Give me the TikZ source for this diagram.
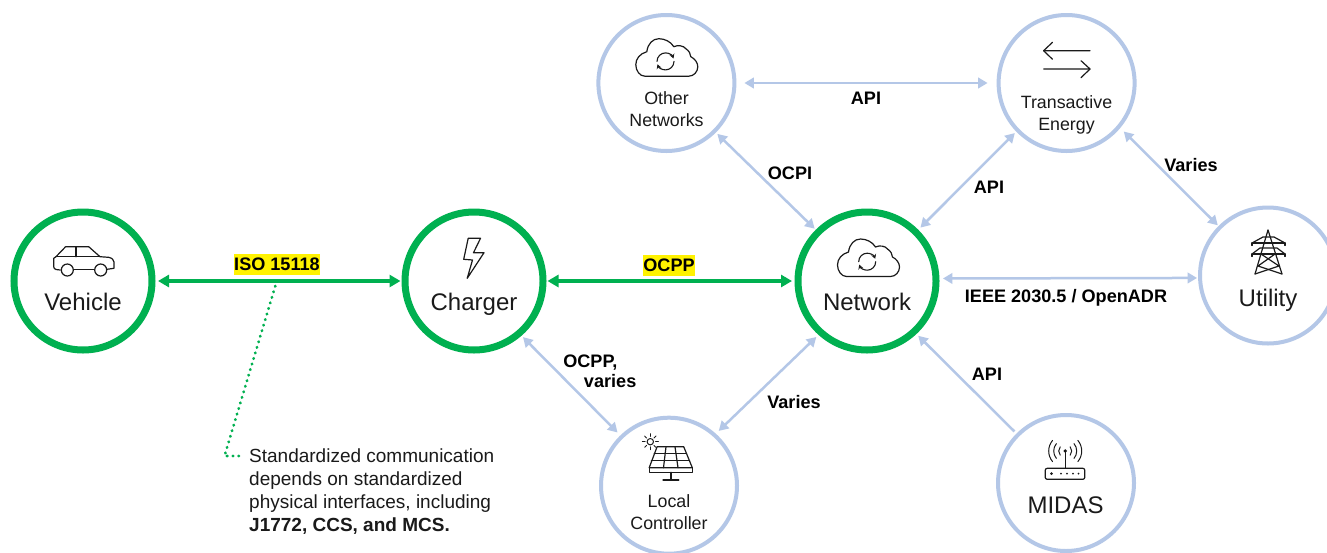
\documentclass[tikz,border=0pt]{standalone}
\usepackage{fontspec}
\setmainfont{Liberation Sans}
\usetikzlibrary{arrows.meta}
\definecolor{evgreen}{HTML}{00B050}
\definecolor{evblue}{HTML}{B4C7E7}
\definecolor{evink}{HTML}{1A1A1A}
\tikzset{
  x=1pt,y=-1pt,
  hub/.style={circle,draw=evgreen,line width=7pt,minimum size=138pt,inner sep=0pt},
  peer/.style={circle,draw=evblue,line width=4pt,minimum size=136pt,inner sep=0pt},
  greenlink/.style={draw=evgreen,line width=4pt,{Triangle[length=11pt,width=12pt]}-{Triangle[length=11pt,width=12pt]}},
  bluelink/.style={draw=evblue,line width=2.5pt,{Triangle[length=9.5pt,width=10.5pt]}-{Triangle[length=9.5pt,width=10.5pt]}},
  bluearrow/.style={draw=evblue,line width=2.5pt,-{Triangle[length=9.5pt,width=10.5pt]}},
  bigname/.style={font=\fontsize{24}{28}\selectfont,text=evink,inner sep=0pt,anchor=base},
  smallname/.style={font=\fontsize{17.8}{21.6}\selectfont,text=evink,inner sep=0pt,align=center},
  proto/.style={font=\fontsize{18.1}{20}\selectfont\bfseries,text=black,inner sep=0pt},
  hilite/.style={proto,fill=yellow,minimum height=21pt,inner xsep=0.5pt},
  icon/.style={draw=evink,line width=1.2pt,line join=round,line cap=round},
  pics/cloudicon/.style={code={
    \draw[icon] (-22,18.5) .. controls (-27,18.5) and (-31,13) .. (-31,7)
      .. controls (-31,1) and (-27,-4) .. (-20,-6)
      .. controls (-19,-14) and (-14,-19) .. (-8,-19)
      .. controls (-2,-19) and (4,-16) .. (7,-11)
      .. controls (11,-13) and (17,-12) .. (19,-9)
      .. controls (22,-7) and (24,-4) .. (24,-1)
      .. controls (28,1) and (31,5) .. (31,9)
      .. controls (31,14) and (27,18.5) .. (22,18.5) -- cycle;
    \draw[icon,line width=1.1pt,-{Stealth[length=4.5pt,width=5pt]}] (-9.8,3.7) arc[start angle=180,end angle=340,radius=8.5];
    \draw[icon,line width=1.1pt,-{Stealth[length=4.5pt,width=5pt]}] (7.2,3.7) arc[start angle=0,end angle=160,radius=8.5];
  }}
}
\begin{document}
\begin{tikzpicture}
\useasboundingbox (0,0) rectangle (1327,552);
\fill[white] (0,0) rectangle (1327,552);

% circles
\node[hub] (vehicle) at (83,281) {};
\node[hub] (charger) at (474,281) {};
\node[hub] (network) at (867,281) {};
\node[peer] (other) at (666.4,83) {};
\node[peer] (trans) at (1066.6,83) {};
\node[peer] (local) at (669,485.7) {};
\node[peer] (midas) at (1066,483) {};
\node[peer] (utility) at (1268,275.5) {};

% connectors
\draw[greenlink,shorten <=2.5pt,shorten >=1pt] (vehicle.east) -- (charger.west);
\draw[greenlink,shorten <=1pt,shorten >=2.5pt] (charger.east) -- (network.west);
\draw[bluelink,shorten <=8pt,shorten >=9pt] (other.east) -- (trans.west);
\draw[bluelink,shorten <=2pt,shorten >=1.5pt] (other.-45) -- (network.135);
\draw[bluelink,shorten <=3pt,shorten >=2pt] (network.45) -- (trans.-136);
\draw[bluelink,shorten <=5pt,shorten >=1pt] (trans.-40) -- (utility.135);
\draw[bluelink,shorten <=3.5pt,shorten >=1pt] (network.2.3) -- (utility.-178);
\draw[bluelink,shorten <=2pt,shorten >=4pt] (charger.-49) -- (local.134);
\draw[bluelink,shorten <=3pt,shorten >=4pt] (network.-132) -- (local.48);
\draw[bluearrow,shorten <=3pt,shorten >=2.5pt] (midas.135.5) -- (network.-47);

% protocol labels
\node[hilite] (iso) at (277,264.5) {ISO 15118};
\node[hilite] (ocpp) at (669,265) {OCPP};
\node[proto] (apitop) at (866,98.5) {API};
\node[proto] (ocpi) at (790,173.5) {OCPI};
\node[proto] (apitrans) at (989,187.5) {API};
\node[proto] (variesutil) at (1191,165.5) {Varies};
\node[proto] (ieee) at (1066,297.5) {IEEE 2030.5 / OpenADR};
\node[proto,align=left] (ocppvaries) at (599.8,371.5) {OCPP,\\[0pt]\hspace{20.7pt}varies};
\node[proto] (varieslocal) at (794,402.5) {Varies};
\node[proto] (apimidas) at (987,374.5) {API};

% names
\node[bigname] (tvehicle) at (83,310) {Vehicle};
\node[bigname] (tcharger) at (474,310) {Charger};
\node[bigname] (tnetwork) at (867,310) {Network};
\node[bigname] (tutility) at (1268,306) {Utility};
\node[bigname] (tmidas) at (1065.5,513) {MIDAS};
\node[smallname] (tother) at (666.5,109) {Other\\Networks};
\node[smallname] (ttrans) at (1066.5,115) {Transactive\\Energy};
\node[smallname] (tlocal) at (669,512) {Local\\Controller};

% note
\node[inner sep=0pt,anchor=west,align=left,text=evink,font=\fontsize{19}{23}\selectfont] (note) at (249,492)
  {Standardized communication\\depends on standardized\\physical interfaces, including\\\textbf{J1772, CCS, and MCS.}};
\coordinate (dotstart) at (275.3,286);
\coordinate (dotbend) at (224.5,456);
\coordinate (dotend) at (241,456);
\draw[evgreen,line width=2.8pt,line cap=round,dash pattern=on 0.5pt off 5.3pt] (dotstart) -- (dotbend) -- (dotend);

% car
\draw[icon] (60.3,270) -- (56,269.5) .. controls (54.5,269) and (53.7,268) .. (53.7,266.7) -- (53.7,258.3) -- (56,256.7) -- (65.6,246.7) -- (88.7,246.7) -- (100,256.7) -- (108.7,257.3) .. controls (112,258) and (114,260) .. (114,262) -- (114,268.3) -- (107,269.3);
\draw[icon] (56,256.7) -- (100,256.7);
\draw[icon] (76,246.7) -- (76,256.7);
\draw[icon] (73.7,269.3) -- (94,269.3);
\draw[icon] (67.3,270) circle[radius=6];
\draw[icon] (100.7,270) circle[radius=6];

% bolt
\draw[icon] (468.2,238.3) -- (480.5,238.3) -- (473.5,252.7) -- (484,252.7) -- (467.2,278.3) -- (472.5,260) -- (463.7,259.3) -- cycle;

% clouds
\pic at (666.8,57.7) {cloudicon};
\pic at (868.5,258) {cloudicon};

% exchange arrows
\draw[icon] (1090,50.7) -- (1043.6,50.7) -- (1052.5,42.3);
\draw[icon] (1043.6,50.7) -- (1052.5,59.3);
\draw[icon] (1043.6,69) -- (1090,69) -- (1081,60.7);
\draw[icon] (1090,69) -- (1081,77.7);

% solar panel
\draw[icon] (657.1,446.7) -- (683.7,446.7) -- (692.3,467.7) -- (649.2,467.7) -- cycle;
\draw[icon] (649.2,467.7) -- (649.2,472.3) -- (692.3,472.3) -- (692.3,467.7);
\draw[icon] (654.2,453.6) -- (686.5,453.6);
\draw[icon] (651.3,460.7) -- (689.4,460.7);
\draw[icon] (666,446.7) -- (663.5,467.7);
\draw[icon] (675,446.7) -- (678,467.7);
\draw[icon] (670.9,472.3) -- (670.9,480);
\draw[icon] (663,480) -- (678.8,480);
\draw[icon,line width=1pt] (650.3,441.7) circle[radius=3.2];
\foreach \a in {0,45,...,315}{
  \draw[icon,line width=0.9pt] (650.3,441.7) ++(\a:5.2) -- ++(\a:2.8);
}

% tower
\draw[icon] (1268,230) -- (1255,274);
\draw[icon] (1268,230) -- (1282,274);
\draw[icon] (1252,243) -- (1285,243);
\draw[icon] (1252,254) -- (1285,254);
\draw[icon] (1252,243) -- (1263,237) -- (1274,237) -- (1285,243);
\draw[icon] (1252,254) -- (1260,248) -- (1277,248) -- (1285,254);
\draw[icon] (1261,254) -- (1279,266) -- (1255,274);
\draw[icon] (1275,254) -- (1258,266) -- (1282,274);
\draw[icon] (1252,243) -- (1252,245.5);
\draw[icon] (1285,243) -- (1285,245.5);
\draw[icon] (1252,254) -- (1252,256.5);
\draw[icon] (1285,254) -- (1285,256.5);

% router
\draw[icon,rounded corners=2pt] (1045.2,468.3) rectangle (1084.8,479.3);
\draw[icon] (1065.2,451) -- (1065.2,468.3);
\fill[evink] (1065.2,451) circle[radius=1.8];
\fill[evink] (1051.5,473.7) circle[radius=1.5];
\foreach \x in {1061,1067,1073,1078.5}{ \fill[evink] (\x,473.7) circle[radius=1]; }
\foreach \r in {6.5,11.5,16.5}{
  \draw[icon,line width=1pt] (1065.2,451) ++(-40:\r) arc[start angle=-40,end angle=40,radius=\r];
  \draw[icon,line width=1pt] (1065.2,451) ++(140:\r) arc[start angle=140,end angle=220,radius=\r];
}
\end{tikzpicture}
\end{document}
